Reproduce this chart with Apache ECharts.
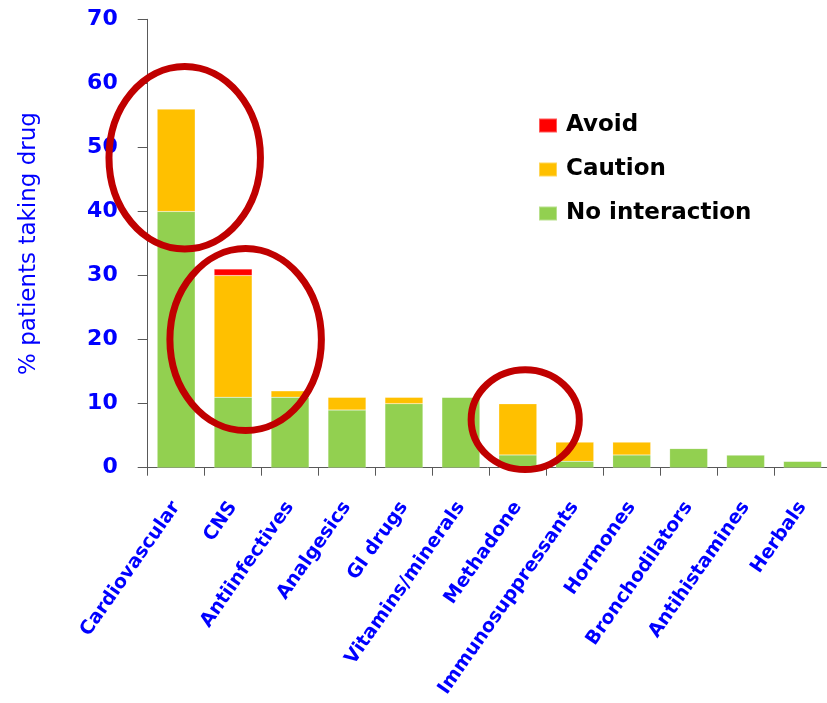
<!DOCTYPE html>
<html>
<head>
<meta charset="utf-8">
<script src="https://cdn.jsdelivr.net/npm/echarts@6/dist/echarts.min.js"></script>
<style>
html,body{margin:0;padding:0;background:#fff;}
#chart{width:827px;height:703px;}
</style>
</head>
<body>
<div id="chart"></div>
<script>
// ---- data ----
var categories = ['Cardiovascular','CNS','Antiinfectives','Analgesics','GI drugs','Vitamins/minerals','Methadone','Immunosuppressants','Hormones','Bronchodilators','Antihistamines','Herbals'];
var noInteraction = [40, 11, 11, 9, 10, 11, 2, 1, 2, 3, 2, 1];
var caution       = [16, 19, 1, 2, 1, 0, 8, 3, 2, 0, 0, 0];
var avoid         = [0, 1, 0, 0, 0, 0, 0, 0, 0, 0, 0, 0];
var yTicks = [0, 10, 20, 30, 40, 50, 60, 70];
var seriesNames = ['No interaction', 'Caution', 'Avoid'];
var legendOrder = ['Avoid', 'Caution', 'No interaction'];
var yTitle = '% patients taking drug';

// annotation ellipses in data units (category index, value)
var ellipseCx = [0.15, 1.22, 6.13];
var ellipseCy = [48.4, 20.0, 7.5];
var ellipseRx = [1.33, 1.33, 0.95];
var ellipseRy = [14.25, 14.2, 7.8];

var BLUE = '#0000FF';
var AXIS = '#595959';
var chart = echarts.init(document.getElementById('chart'), null, {renderer:'canvas'});

var barStyle = function(c){ return {color:c, borderColor:'rgba(255,255,255,0.35)', borderWidth:0.5}; };

var option = {
  animation:false,
  backgroundColor:'#ffffff',
  grid:{left:147.7, top:19.3, right:-4, bottom:235.3, containLabel:false, outerBoundsMode:'none'},
  legend:{
    data:legendOrder,
    orient:'vertical',
    left:538, top:114,
    padding:0,
    itemWidth:18, itemHeight:14, itemGap:21,
    icon:'rect',
    textStyle:{fontFamily:'DejaVu Sans', fontWeight:'bold', fontSize:23, lineHeight:22, color:'#000', padding:[0,0,0,4]}
  },
  xAxis:{
    type:'category',
    data:categories,
    boundaryGap:true,
    axisLine:{show:true, lineStyle:{color:AXIS, width:1}},
    axisTick:{show:true, length:8, inside:false, lineStyle:{color:AXIS}},
    axisLabel:{rotate:55, interval:0, margin:36, color:BLUE, fontFamily:'DejaVu Sans', fontWeight:'bold', fontSize:19},
    splitLine:{show:false}
  },
  yAxis:{
    type:'value',
    min:0, max:70, interval:10,
    name:yTitle,
    nameLocation:'middle',
    nameRotate:90,
    nameGap:107,
    nameTextStyle:{color:BLUE, fontFamily:'DejaVu Sans', fontSize:23},
    axisLine:{show:true, lineStyle:{color:AXIS, width:1}},
    axisTick:{show:true, length:10, lineStyle:{color:AXIS}},
    axisLabel:{margin:30, color:BLUE, fontFamily:'DejaVu Sans', fontWeight:'bold', fontSize:22,
      formatter:function(v){ return yTicks.indexOf(v) >= 0 ? String(v) : ''; }},
    splitLine:{show:false}
  },
  series:[
    {name:seriesNames[0], type:'bar', stack:'s', data:noInteraction, barWidth:38, itemStyle:barStyle('#92D050')},
    {name:seriesNames[1], type:'bar', stack:'s', data:caution, barWidth:38, itemStyle:barStyle('#FFC000')},
    {name:seriesNames[2], type:'bar', stack:'s', data:avoid, barWidth:38, itemStyle:barStyle('#FF0000')}
  ]
};
chart.setOption(option);

// draw annotation ellipses using the chart's own scales
var p0 = chart.convertToPixel({gridIndex:0}, [0, 0]);
var p1 = chart.convertToPixel({gridIndex:0}, [1, 10]);
var pxPerCat = p1[0] - p0[0];
var pxPerVal = (p0[1] - p1[1]) / 10;
var els = [];
for (var i = 0; i < ellipseCx.length; i++) {
  els.push({
    type:'ellipse', z:100,
    shape:{cx:p0[0] + ellipseCx[i]*pxPerCat, cy:p0[1] - ellipseCy[i]*pxPerVal, rx:ellipseRx[i]*pxPerCat, ry:ellipseRy[i]*pxPerVal},
    style:{fill:null, stroke:'#C00000', lineWidth:7}
  });
}
chart.setOption({graphic:{elements:els}});
</script>
</body>
</html>
